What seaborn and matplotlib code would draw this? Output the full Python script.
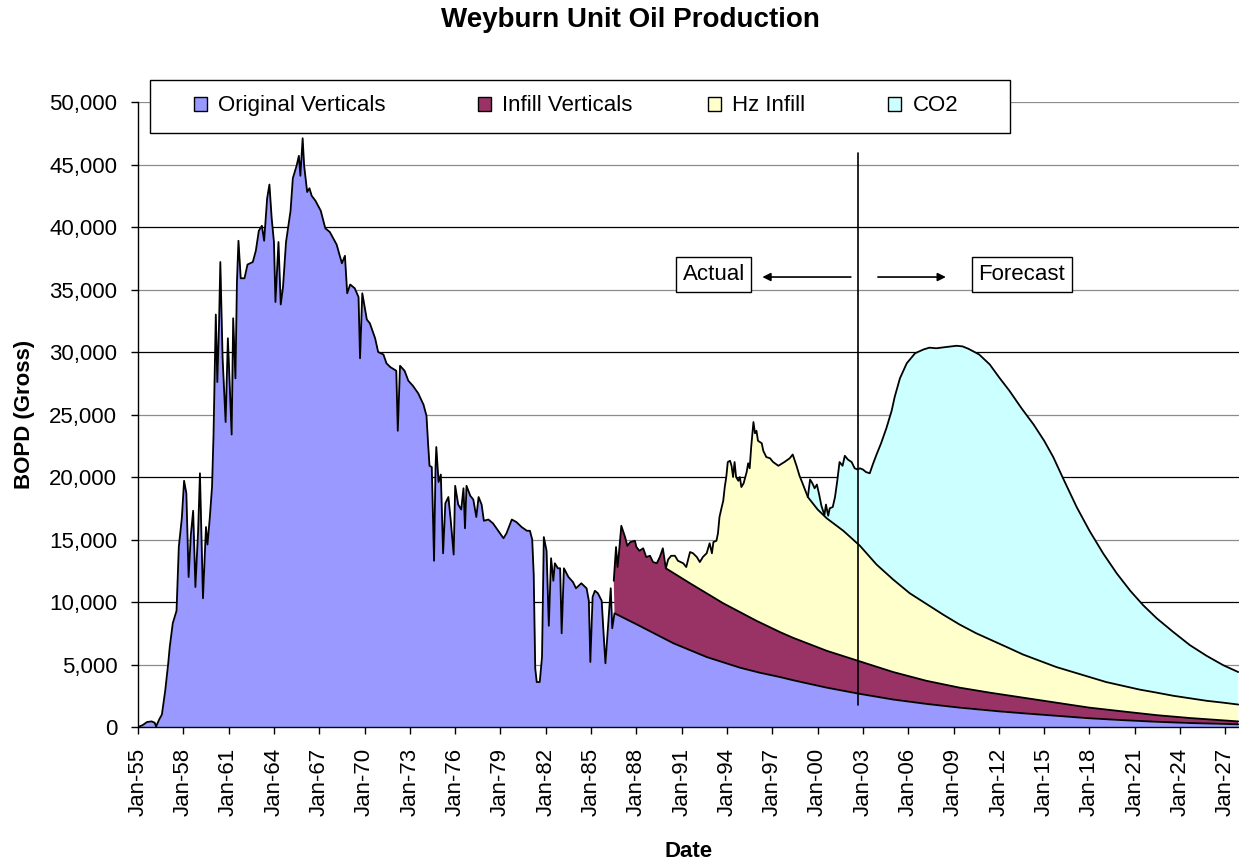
import numpy as np
import matplotlib
matplotlib.use("Agg")
import matplotlib.pyplot as plt
from matplotlib.patches import Patch, Rectangle
from matplotlib.ticker import FuncFormatter
import seaborn as sns

# (decimal year, BOPD); each list is the top edge of its stacked layer
orig_pts = [
    (1955.0, 0), (1955.3, 150), (1955.6, 400), (1955.9, 450), (1956.1, 350), (1956.2, 50),
    (1956.4, 600), (1956.58, 1000), (1956.8, 2900), (1957.0, 5100), (1957.1, 6400),
    (1957.3, 8300), (1957.55, 9300), (1957.7, 14400), (1957.9, 16700), (1958.05, 19700),
    (1958.2, 18700), (1958.35, 12000), (1958.5, 15400), (1958.65, 17300), (1958.8, 11200),
    (1958.98, 15700), (1959.1, 20300), (1959.3, 10300), (1959.5, 16000), (1959.6, 14600),
    (1959.75, 16700), (1959.9, 19200), (1960.0, 23400), (1960.15, 33000), (1960.25, 27600),
    (1960.36, 32000), (1960.45, 37200), (1960.6, 29500), (1960.8, 24400), (1960.95, 31100),
    (1961.2, 23400), (1961.3, 32700), (1961.45, 27900), (1961.55, 35600), (1961.65, 38900),
    (1961.8, 35900), (1962.05, 35900), (1962.25, 37000), (1962.6, 37200), (1962.8, 38100),
    (1963.0, 39700), (1963.2, 40100), (1963.35, 38900), (1963.55, 42300), (1963.7, 43400),
    (1963.85, 40700), (1964.0, 38800), (1964.1, 34000), (1964.3, 38800), (1964.45, 33800),
    (1964.6, 35200), (1964.8, 38800), (1965.1, 41300), (1965.25, 43900), (1965.5, 44900),
    (1965.65, 45700), (1965.75, 44100), (1965.9, 47100), (1966.0, 44900), (1966.2, 42800),
    (1966.35, 43100), (1966.5, 42500), (1966.75, 42100), (1967.1, 41300), (1967.4, 39900),
    (1967.7, 39600), (1968.15, 38600), (1968.5, 37100), (1968.7, 37700), (1968.85, 34700),
    (1969.05, 35400), (1969.35, 35100), (1969.6, 34400), (1969.7, 29500), (1969.85, 34700),
    (1970.15, 32600), (1970.35, 32300), (1970.7, 31100), (1970.9, 30000), (1971.25, 29800),
    (1971.45, 29100), (1971.7, 28800), (1972.1, 28500), (1972.2, 23700), (1972.35, 28900),
    (1972.65, 28500), (1972.9, 27700), (1973.2, 27300), (1973.55, 26700), (1973.9, 25800),
    (1974.1, 24900), (1974.2, 22800), (1974.3, 20900), (1974.45, 20800), (1974.6, 13300),
    (1974.7, 20800), (1974.75, 22400), (1974.9, 19600), (1975.05, 20200), (1975.2, 13900),
    (1975.35, 17900), (1975.55, 18400), (1975.7, 16600), (1975.9, 13800), (1976.0, 19300),
    (1976.2, 17800), (1976.4, 17400), (1976.55, 19100), (1976.65, 15900), (1976.75, 19300),
    (1977.0, 18500), (1977.2, 18200), (1977.4, 16800), (1977.55, 18400), (1977.75, 17800),
    (1977.9, 16500), (1978.2, 16600), (1978.5, 16300), (1978.85, 15700), (1979.2, 15100),
    (1979.4, 15500), (1979.75, 16600), (1980.05, 16400), (1980.4, 16000), (1980.75, 15700),
    (1980.95, 15700), (1981.1, 15000), (1981.2, 12200), (1981.3, 4700), (1981.4, 3600),
    (1981.6, 3600), (1981.75, 5600), (1981.87, 15200), (1982.05, 14100), (1982.2, 8100),
    (1982.35, 13500), (1982.5, 11700), (1982.6, 13100), (1982.8, 12700), (1982.95, 12700),
    (1983.05, 7500), (1983.2, 12700), (1983.5, 12000), (1983.8, 11600), (1984.0, 11100),
    (1984.35, 11500), (1984.7, 11100), (1984.85, 10100), (1984.95, 5200), (1985.1, 10400),
    (1985.25, 10900), (1985.45, 10700), (1985.7, 10100), (1985.85, 7000), (1985.95, 5100),
    (1986.15, 8500), (1986.3, 11100), (1986.4, 7900),
    (1986.55, 9100), (1988.2, 8100), (1990.45, 6700), (1992.65, 5600), (1994.85, 4750),
    (1996.15, 4350), (1997.5, 4000), (1998.35, 3750), (2000.6, 3150), (2002.8, 2650),
    (2005.0, 2200), (2007.2, 1850), (2009.4, 1550), (2012.05, 1250), (2013.6, 1100),
    (2015.8, 900), (2018.0, 700), (2020.2, 550), (2022.45, 420), (2024.65, 320), (2027.85, 220),
]

infill_pts = [
    (1986.5, 11700), (1986.65, 14400), (1986.75, 12800), (1986.85, 14000), (1987.0, 16100),
    (1987.25, 15200), (1987.4, 14500), (1987.6, 14800), (1987.9, 14900), (1988.0, 14400),
    (1988.2, 14100), (1988.45, 14300), (1988.65, 13600), (1988.9, 13700), (1989.1, 13200),
    (1989.35, 13100), (1989.55, 13600), (1989.75, 14300), (1989.95, 12700),
    (1991.55, 11500), (1993.75, 9900), (1995.95, 8500), (1997.5, 7600), (1998.35, 7150),
    (2000.6, 6100), (2002.8, 5250), (2005.0, 4400), (2007.2, 3700), (2009.4, 3150),
    (2011.4, 2750), (2013.6, 2350), (2015.8, 1950), (2018.0, 1550), (2020.2, 1250),
    (2022.45, 950), (2024.65, 720), (2027.85, 450),
]

hz_pts = [
    (1989.95, 12700), (1990.1, 13400), (1990.3, 13700), (1990.55, 13700), (1990.75, 13300),
    (1991.1, 13100), (1991.3, 12800), (1991.55, 14000), (1991.75, 13900), (1992.0, 13600),
    (1992.2, 13200), (1992.4, 13600), (1992.65, 13900), (1992.85, 14700), (1993.0, 13900),
    (1993.1, 14800), (1993.3, 14900), (1993.4, 15500), (1993.5, 16800), (1993.65, 17600),
    (1993.75, 18100), (1993.85, 19200), (1993.95, 20000), (1994.05, 21200), (1994.2, 21300),
    (1994.3, 20900), (1994.4, 20000), (1994.5, 21200), (1994.6, 20000), (1994.75, 19700),
    (1994.85, 20000), (1994.95, 19200), (1995.1, 19500), (1995.3, 20400), (1995.4, 21100),
    (1995.5, 20700), (1995.6, 22400), (1995.75, 24400), (1995.85, 23500), (1995.95, 23700),
    (1996.05, 22900), (1996.3, 22700), (1996.4, 22100), (1996.6, 21600), (1996.85, 21500),
    (1997.05, 21200), (1997.4, 20900), (1997.8, 21200), (1998.15, 21500), (1998.35, 21800),
    (1998.6, 20900), (1998.8, 20100), (1999.0, 19500), (1999.35, 18400),
    (2000.0, 17400), (2000.6, 16700), (2001.7, 15700), (2002.8, 14500), (2003.9, 13000),
    (2005.0, 11800), (2006.1, 10700), (2007.2, 9850), (2008.3, 9000), (2009.4, 8200),
    (2010.5, 7500), (2011.6, 6900), (2012.7, 6300), (2013.6, 5800), (2014.7, 5300),
    (2015.8, 4800), (2016.9, 4400), (2018.0, 4000), (2019.1, 3600), (2020.2, 3300),
    (2021.3, 3000), (2022.45, 2750), (2023.55, 2500), (2024.65, 2300), (2025.75, 2100),
    (2026.85, 1950), (2027.85, 1800),
]

co2_pts = [
    (1999.35, 18400), (1999.5, 19800), (1999.65, 19500), (1999.8, 19100), (1999.95, 19400),
    (2000.1, 18600), (2000.25, 17700), (2000.45, 16950), (2000.55, 17800), (2000.7, 16900),
    (2000.8, 17500), (2001.0, 17600), (2001.15, 18400), (2001.3, 19700), (2001.45, 21200),
    (2001.65, 20900), (2001.8, 21700), (2002.0, 21400), (2002.25, 21200), (2002.45, 20700),
    (2002.65, 20600), (2002.8, 20700), (2003.0, 20600), (2003.2, 20400), (2003.45, 20300),
    (2003.65, 21000), (2003.9, 21800), (2004.2, 22700), (2004.55, 23900), (2004.9, 25300),
    (2005.1, 26400), (2005.45, 27900), (2005.9, 29100), (2006.45, 29900), (2007.0, 30200),
    (2007.4, 30350), (2007.85, 30300), (2008.5, 30400), (2009.2, 30500), (2009.6, 30450),
    (2010.0, 30250), (2010.7, 29800), (2011.4, 29000), (2012.0, 28000), (2012.7, 26900),
    (2013.5, 25500), (2014.3, 24200), (2015.0, 22900), (2015.6, 21600), (2016.25, 19900),
    (2017.15, 17600), (2018.0, 15700), (2018.9, 13900), (2019.8, 12300), (2020.7, 10900),
    (2021.55, 9750), (2022.45, 8700), (2023.55, 7600), (2024.65, 6550), (2025.75, 5700),
    (2026.85, 4950), (2027.85, 4400),
]

series_names = ["Original Verticals", "Infill Verticals", "Hz Infill", "CO2"]
series_colors = ["#9999FF", "#993366", "#FFFFCC", "#CCFFFF"]
tick_years = list(range(1955, 2028, 3))
forecast_start = 2002.68

sns.set_style("white")
plt.rcParams["font.family"] = ["Liberation Sans", "DejaVu Sans"]
plt.rcParams.update({"text.color": "black", "axes.labelcolor": "black",
                     "xtick.color": "black", "ytick.color": "black"})

fig = plt.figure(figsize=(12.39, 8.61), dpi=100)
ax = fig.add_axes([0.1114, 0.1556, 0.8886, 0.7259])

layers = [np.array(p, dtype=float).T for p in (orig_pts, infill_pts, hz_pts, co2_pts)]

# stacked areas: each band sits between the previous top edge and its own
ax.fill_between(layers[0][0], 0, layers[0][1], color=series_colors[0], lw=0, zorder=2)
for (lx, ly), (tx, ty), c in zip(layers[:-1], layers[1:], series_colors[1:]):
    m = lx >= tx[0]
    ax.fill(np.concatenate([tx, lx[m][::-1]]), np.concatenate([ty, ly[m][::-1]]),
            color=c, lw=0, zorder=2)

for x, y in layers:
    sns.lineplot(x=x, y=y, ax=ax, color="black", lw=1.3, estimator=None, sort=False, zorder=3)

ax.set_xlim(1955, 2027.9)
ax.set_ylim(0, 50000)
ax.set_yticks(range(0, 50001, 5000))
ax.yaxis.set_major_formatter(FuncFormatter(lambda v, p: f"{v:,.0f}"))
ax.set_xticks(tick_years)
ax.set_xticklabels([f"Jan-{y % 100:02d}" for y in tick_years], rotation=90)

ax.set_axisbelow(True)
ax.yaxis.grid(True)
for v, gl in zip(range(0, 50001, 5000), ax.get_ygridlines()):
    gl.set_color("black" if v % 10000 == 0 and v < 50000 else "#8c8c8c")
    gl.set_linewidth(0.9)
ax.xaxis.grid(False)

ax.tick_params(axis="both", labelsize=16, length=5, width=1, color="black", pad=10,
               direction="out", left=True, bottom=True)
sns.despine(ax=ax, top=True, right=True)
for s in ("left", "bottom"):
    ax.spines[s].set_color("black")
    ax.spines[s].set_linewidth(1)

ax.set_ylabel("BOPD (Gross)", fontsize=16, fontweight="bold")
ax.yaxis.set_label_coords(-0.0936, 0.5)
ax.set_xlabel("Date", fontsize=16, fontweight="bold")
ax.xaxis.set_label_coords(0.5, -0.182)

# actual / forecast split
ax.plot([forecast_start, forecast_start], [1800, 45900], color="black", lw=1.2, zorder=4)
box = dict(boxstyle="square,pad=0.3", fc="white", ec="black", lw=1)
ax.text(1993.11, 36200, "Actual", ha="center", va="center", fontsize=16, bbox=box, zorder=5)
ax.text(2013.51, 36200, "Forecast", ha="center", va="center", fontsize=16, bbox=box, zorder=5)
arrow = dict(arrowstyle="-|>", color="black", lw=1.2, mutation_scale=12, shrinkA=0, shrinkB=0)
ax.annotate("", xy=(1996.34, 36000), xytext=(2002.2, 36000), arrowprops=arrow, zorder=5)
ax.annotate("", xy=(2008.49, 36000), xytext=(2003.99, 36000), arrowprops=arrow, zorder=5)

# legend box across the top of the plot, one entry placed at a time
fig.patches.append(Rectangle((0.121, 0.846), 0.694, 0.0616, transform=fig.transFigure,
                             fc="white", ec="black", lw=1, zorder=4))
entry_x = [194, 478, 708, 888]
for name, c, px in zip(series_names, series_colors, entry_x):
    leg = fig.legend([Patch(facecolor=c, edgecolor="black", lw=1)], [name], loc="center left",
                     bbox_to_anchor=(px / 1239, 0.877), frameon=False, fontsize=16,
                     handlelength=0.6, handleheight=0.6, handletextpad=0.5, borderpad=0,
                     borderaxespad=0)
    leg.set_zorder(5)

fig.text(0.5085, 0.977, "Weyburn Unit Oil Production", ha="center", va="center",
         fontsize=20, fontweight="bold")

fig.savefig("out.png", dpi=100)
